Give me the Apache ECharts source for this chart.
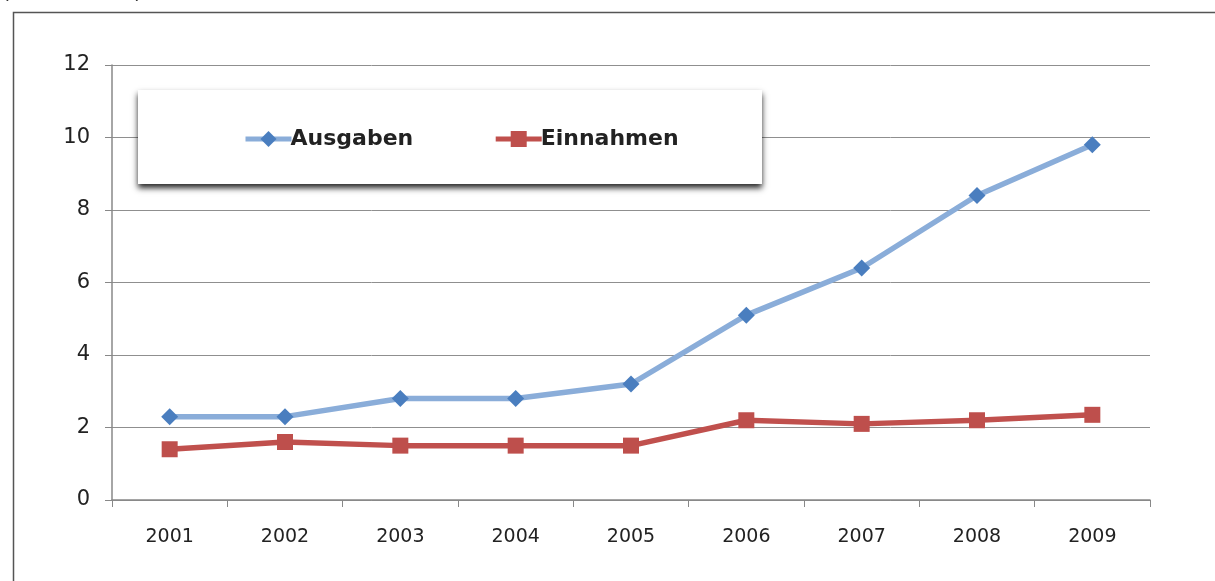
<!DOCTYPE html>
<html>
<head>
<meta charset="utf-8">
<script src="https://cdn.jsdelivr.net/npm/echarts@6/dist/echarts.min.js"></script>
<style>
  html, body { margin: 0; padding: 0; background: #fff; }
  #container { width: 1215px; height: 581px; }
</style>
</head>
<body>
<div id="container"></div>
<script>
// Jahre und Werte (Mrd.)
var years = ['2001', '2002', '2003', '2004', '2005', '2006', '2007', '2008', '2009'];
var ausgaben = [2.3, 2.3, 2.8, 2.8, 3.2, 5.1, 6.4, 8.4, 9.8];
var einnahmen = [1.4, 1.6, 1.5, 1.5, 1.5, 2.2, 2.1, 2.2, 2.35];

var myChart = echarts.init(document.getElementById('container'));
var font = 'DejaVu Sans';

var option = {
    animation: false,
    backgroundColor: '#fff',
    textStyle: {fontFamily: font},
    graphic: [
        // Rahmen
        {type: 'rect', left: 11, top: 10, z: 0,
         shape: {width: 1215, height: 600},
         style: {fill: 'none', stroke: '#555', lineWidth: 1.5}},
        // Überschrift (abgeschnitten)
        {type: 'text', left: 2, top: -18,
         style: {text: '(in Mrd. USD)', font: '21px ' + font, fill: '#333'}},
        // Legendenkasten mit Schatten
        {type: 'rect', left: 138, top: 90, z: 5,
         shape: {width: 624, height: 94},
         style: {fill: '#fff', shadowColor: 'rgba(0,0,0,0.85)', shadowBlur: 6, shadowOffsetY: 4, shadowOffsetX: 0}}
    ],
    grid: {left: 112, right: 65, top: 65, bottom: 81},
    legend: {
        left: 238, top: 123, z: 10,
        itemWidth: 46, itemHeight: 20, itemGap: 80,
        lineStyle: {width: 5},
        textStyle: {fontSize: 22, fontWeight: 'bold', color: '#222', fontFamily: font, padding: [0, 0, 0, -6]},
        data: ['Ausgaben', 'Einnahmen']
    },
    xAxis: {
        type: 'category',
        data: years,
        boundaryGap: true,
        axisLine: {lineStyle: {color: '#888', width: 1.5}},
        axisTick: {show: true, length: 7, lineStyle: {color: '#888'}},
        axisLabel: {fontSize: 19, color: '#222', margin: 28}
    },
    yAxis: {
        type: 'value',
        min: 0, max: 12, interval: 2,
        axisLine: {show: true, lineStyle: {color: '#888', width: 1.5}},
        axisTick: {show: true, length: 7, lineStyle: {color: '#888'}},
        axisLabel: {fontSize: 21, color: '#222', margin: 22},
        splitLine: {lineStyle: {color: '#8f8f8f', width: 1}}
    },
    series: [
        {
            name: 'Ausgaben',
            type: 'line',
            data: ausgaben,
            symbol: 'diamond',
            symbolSize: 17,
            lineStyle: {color: '#8AADD9', width: 5.5},
            itemStyle: {color: '#4A7EBF'},
            z: 3
        },
        {
            name: 'Einnahmen',
            type: 'line',
            data: einnahmen,
            symbol: 'rect',
            symbolSize: 16,
            lineStyle: {color: '#C0504D', width: 5.5},
            itemStyle: {color: '#BE4F4C'},
            z: 3
        }
    ]
};
myChart.setOption(option, true);

window.onresize = function () {
    myChart.resize();
};
</script>
</body>
</html>
